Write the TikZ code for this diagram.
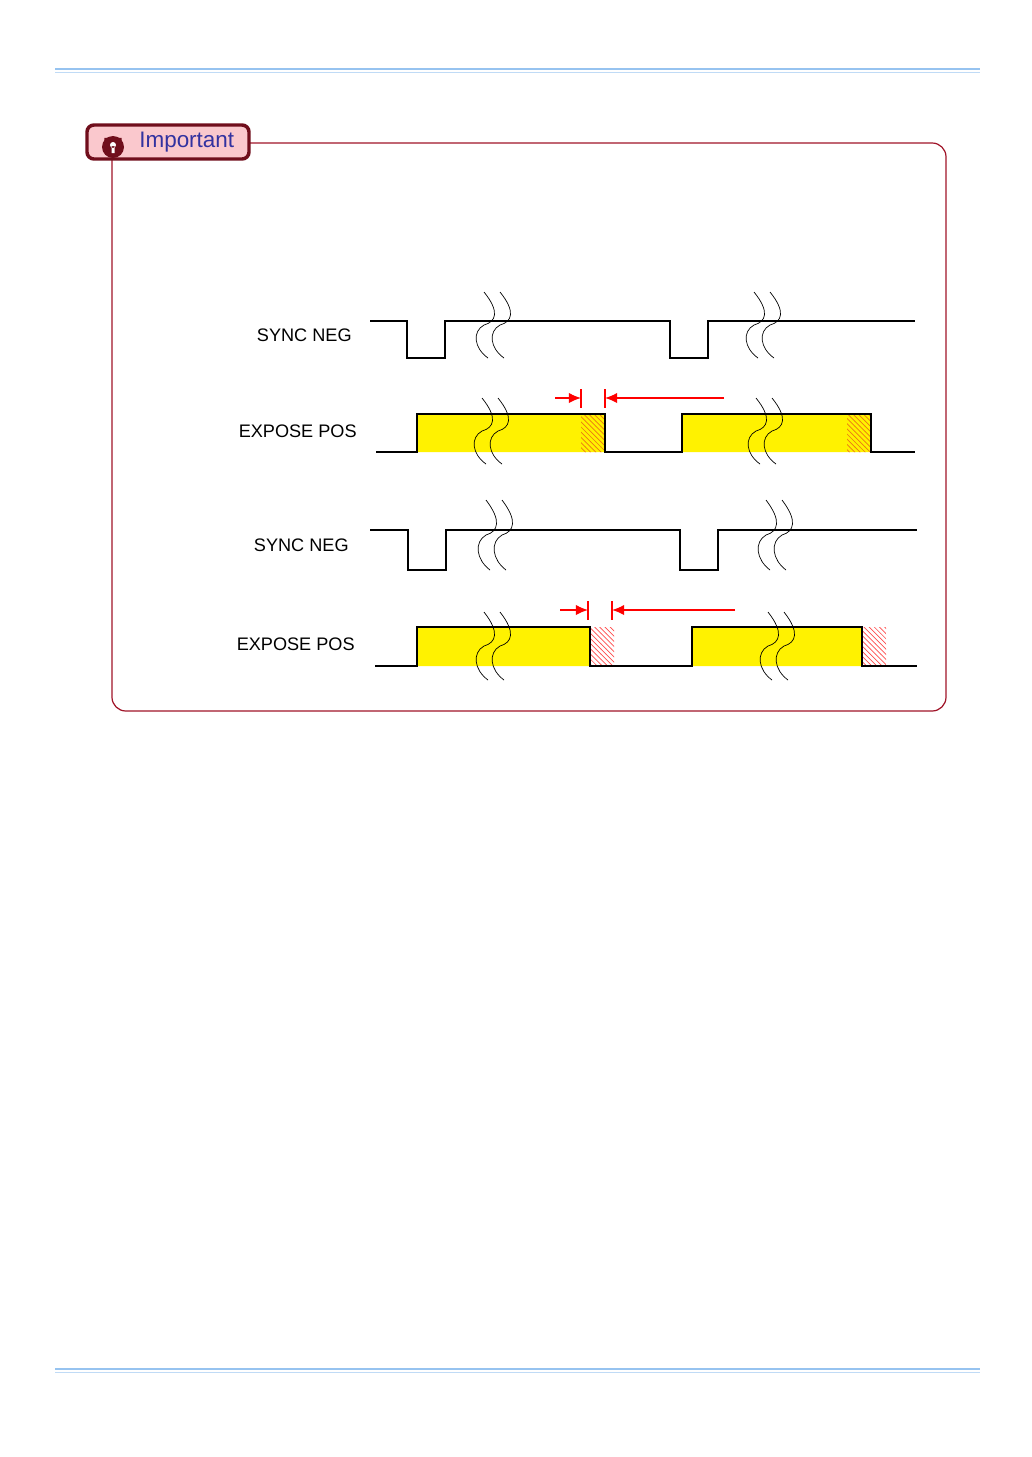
\documentclass[tikz,border=0pt]{standalone}
\usepackage{fontspec}
\setmainfont{Liberation Sans}
\usetikzlibrary{patterns,arrows.meta}
\definecolor{frame}{RGB}{160,20,40}
\definecolor{tabfill}{RGB}{250,200,205}
\definecolor{rule}{RGB}{150,195,240}
\definecolor{hatchorange}{RGB}{235,120,20}
\definecolor{tabtext}{RGB}{50,50,160}
\newcommand{\brk}[3]{% x, top, bottom
  \draw[thin] (#1,#2) .. controls (#1+16,#2+0.3*#3-0.3*#2) and (#1+12,#2+0.45*#3-0.45*#2) .. (#1,0.5*#2+0.5*#3)
    .. controls (#1-12,#2+0.6*#3-0.6*#2) and (#1-10,#2+0.85*#3-0.85*#2) .. (#1+4,#3);}
\begin{document}
\begin{tikzpicture}[x=0.02035cm,y=-0.02035cm,
  wave/.style={line width=1.3pt,line join=miter},
  lbl/.style={font=\fontsize{10.5}{12}\selectfont,anchor=east,inner sep=0pt},
  dim/.style={red,line width=0.8pt},
  tick/.style={red,line width=0.8pt}]
\useasboundingbox (0,0) rectangle (1032,1457);
% page rules
\draw[rule,line width=1.2pt] (55,69) -- (980,69);
\draw[rule!60,line width=0.5pt] (55,72) -- (980,72);
\draw[rule,line width=1.2pt] (55,1369) -- (980,1369);
\draw[rule!60,line width=0.5pt] (55,1372) -- (980,1372);
% frame and tab
\draw[frame,line width=0.7pt,rounded corners=8] (112,143) rectangle (946,711);
\draw[frame!70!black,fill=tabfill,line width=2pt,rounded corners=4] (87,125) rectangle (249,159);
\draw[frame!70!black,line width=2pt] (106,144) -- (106,138) arc (180:0:7) -- (120,144);
\fill[frame!70!black] (113,147) circle (11);
\fill[white] (113,145) circle (3) (111.5,146) rectangle (114.5,153);
\node[text=tabtext,font=\fontsize{13}{15}\selectfont,anchor=west,inner sep=0pt] (imp) at (139,142) {Important};
% first pair
\node[lbl] (s1) at (352,335) {SYNC NEG};
\draw[wave] (370,321) -- (407,321) -- (407,358) -- (445,358) -- (445,321) -- (670,321) -- (670,358) -- (708,358) -- (708,321) -- (915,321);
\brk{484}{292}{358}\brk{500}{292}{358}\brk{754}{292}{358}\brk{770}{292}{358}
\node[lbl] (e1) at (357,431) {EXPOSE POS};
\fill[yellow] (417,414) rectangle (605,452) (682,414) rectangle (871,452);
\fill[pattern=north west lines,pattern color=hatchorange] (581,414) rectangle (605,452) (847,414) rectangle (871,452);
\draw[wave] (376,452) -- (417,452) -- (417,414) -- (605,414) -- (605,452) -- (682,452) -- (682,414) -- (871,414) -- (871,452) -- (915,452);
\brk{482}{398}{464}\brk{498}{398}{464}\brk{756}{398}{464}\brk{772}{398}{464}
\coordinate (a1) at (581,398); \coordinate (b1) at (605,398);
\draw[tick] (581,389) -- (581,408) (605,389) -- (605,408);
\draw[dim,-{Latex[length=7pt,width=6pt]}] (555,398) -- (a1);
\draw[dim,-{Latex[length=7pt,width=6pt]}] (724,398) -- (b1);
% second pair
\node[lbl] (s2) at (349,545) {SYNC NEG};
\draw[wave] (370,530) -- (408,530) -- (408,570) -- (446,570) -- (446,530) -- (680,530) -- (680,570) -- (718,570) -- (718,530) -- (917,530);
\brk{486}{500}{570}\brk{502}{500}{570}\brk{766}{500}{570}\brk{782}{500}{570}
\node[lbl] (e2) at (355,644) {EXPOSE POS};
\fill[yellow] (417,627) rectangle (590,666) (692,627) rectangle (862,666);
\fill[pattern=north west lines,pattern color=red!70] (590,627) rectangle (614,666) (862,627) rectangle (886,666);
\draw[wave] (375,666) -- (417,666) -- (417,627) -- (590,627) -- (590,666) -- (692,666) -- (692,627) -- (862,627) -- (862,666) -- (917,666);
\brk{484}{612}{680}\brk{500}{612}{680}\brk{768}{612}{680}\brk{784}{612}{680}
\coordinate (a2) at (588,610); \coordinate (b2) at (612,610);
\draw[tick] (588,601) -- (588,620) (612,601) -- (612,620);
\draw[dim,-{Latex[length=7pt,width=6pt]}] (560,610) -- (a2);
\draw[dim,-{Latex[length=7pt,width=6pt]}] (735,610) -- (b2);
\end{tikzpicture}
\end{document}
